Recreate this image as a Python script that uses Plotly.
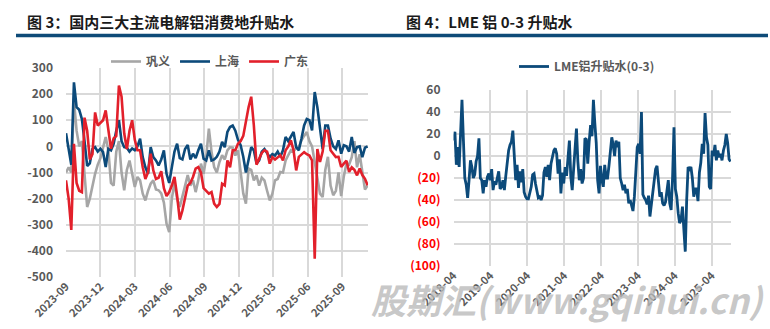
import pandas as pd
import plotly.graph_objects as go

# ---- Figure 3: domestic spot premiums (yuan/t), weekly readings from 2023-09-01 ----
gongyi = [-100, -80, -100, 175, 60, 0, 20, -100, -232, -200, -150, -105, -70, -45, -5, 36, -15, -140,
          -150, -20, 20, -100, -168, -90, -54, -110, -155, -117, -130, -181, -207, -170, -143, -130, -165,
          -168, -180, -215, -296, -328, -200, -140, -200, -232, -190, -140, -110, -150, -130, -175, -130,
          -66, -105, -40, 68, -20, -79, -100, -60, -34, -50, -15, -3, -5, -35, -15, -90, -180, -219, -85,
          -90, -130, -111, -150, -120, -130, -170, -207, -181, -130, -125, -98, -100, -54, -34, -15, -20,
          -5, -3, 23, 40, 55, 20, 0, -60, -120, -181, -194, -90, -40, -150, -187, -170, -100, -190, -115,
          -66, -70, -41, 20, -80, -30, -100, -165, -150]

shanghai = [50, -5, -70, 245, 150, 140, 105, 20, -75, -65, -10, -3, -20, -9, -22, -79, -9, -15, 10, 60,
            100, 20, -3, -5, -20, -8, -15, 0, 29, -41, -80, -105, -3, -41, -54, -73, -50, -15, -105, -140,
            -79, -20, 10, -45, -50, -10, 5, -50, -28, -45, -15, 10, -47, -54, -15, -54, -50, -40, -20, 17,
            -3, 55, 74, 80, 60, 25, 5, -40, -100, -50, -3, -15, -66, -54, -20, -10, -28, -41, -30, -35, -20,
            -40, -15, 36, 20, 40, 55, -3, -15, 30, 80, 105, 100, 61, 208, 150, 60, -10, 80, 80, 30, 0, -10,
            23, -28, 4, 0, -20, 36, -25, -3, 0, -41, -5, 0]

guangdong = [-130, -200, -320, 10, -140, -170, -175, 110, 60, -50, -30, 130, 80, 90, 100, 138, 61, -9, 30,
             40, 233, 190, 50, -10, 60, 100, 25, -15, -15, -80, -125, -100, -28, -92, -125, -120, -95, -160,
             -190, -175, -150, -117, -190, -280, -245, -190, -150, -140, -117, -85, -79, -100, -160, -170,
             -181, -175, -219, -232, -220, -143, -150, -54, -80, -15, -15, 10, 20, 40, 100, 150, 190, 80,
             -70, -45, -25, -15, -20, -66, -41, -50, -40, -34, -54, -15, 0, 23, -15, -92, -40, -30, -22,
             -30, -35, -54, -430, -10, -60, -20, 60, 60, -15, -28, -41, -40, -79, -66, -55, -98, -80, -90,
             -111, -85, -110, -124, -149]

# ---- Figure 4: LME aluminium cash-3M spread (USD/t), fortnightly readings from 2018-04-01 ----
lme_spread = [14, 22, -8, 8, -10, 28, 51, 15, -20, -26, -38, -22, -4, -10, -20, -17, -5, 0, 16, -20,
              -22, -34, -22, -28, -19, -16, -22, -12, -31, -23, -26, -20, -14, -30, -28, -22, -31, -18,
              -3, 5, 10, 13, 23, 5, -22, -8, -29, -14, -24, -12, -33, -37, -39, -39, -34, -28, -17, -16,
              -25, -33, -38, -37, -40, -36, -15, -10, -19, -8, -22, -7, 0, 5, 7, 2, -16, -3, -34, -15,
              -25, -10, -18, 0, 14, -19, -31, -12, 5, 25, -5, -22, -12, -25, -20, 16, 15, -7, 13, 28, 18,
              51, 30, 12, -22, -34, -9, -22, -28, -8, -20, -20, -9, 5, 17, 10, 0, 14, 8, 13, -20, -25,
              -31, -26, -34, -30, -43, -40, -46, -50, -37, -16, 8, 11, 2, 40, -35, -38, -40, -44, -36,
              -55, -45, -31, -22, -12, -9, -25, -37, -33, -43, -45, -42, -32, -22, -43, -49, -20, 26, -30,
              -37, -52, -61, -58, -46, -67, -87, -40, -10, -12, -10, -20, -37, -30, -30, -41, -15, -6, 11,
              2, 39, 17, 10, -28, -30, 5, 0, 10, -4, 5, -1, 2, -4, 5, 10, 20, 12, -3, -5]

left_y_ticks = [300, 200, 100, 0, -100, -200, -300, -400, -500]
right_y_ticks = [60, 40, 20, 0, -20, -40, -60, -80, -100]

dom_dates = pd.date_range("2023-09-01", periods=len(shanghai), freq="7D")
lme_dates = pd.date_range("2018-04-01", periods=len(lme_spread), freq="14D")

BLUE = "#0c4a7a"
RED = "#e2202b"
GRAY = "#a6a6a6"
TICK = "#595959"
GRID = "#d9d9d9"
FONT = "Noto Sans CJK SC"
W, H = 770, 329

fig = go.Figure()
line_w = 2.6
fig.add_trace(go.Scatter(x=dom_dates, y=gongyi, name="巩义", mode="lines",
                         line=dict(color=GRAY, width=line_w), xaxis="x", yaxis="y", legend="legend"))
fig.add_trace(go.Scatter(x=dom_dates, y=shanghai, name="上海", mode="lines",
                         line=dict(color=BLUE, width=line_w), xaxis="x", yaxis="y", legend="legend"))
fig.add_trace(go.Scatter(x=dom_dates, y=guangdong, name="广东", mode="lines",
                         line=dict(color=RED, width=line_w), xaxis="x", yaxis="y", legend="legend"))
fig.add_trace(go.Scatter(x=lme_dates, y=lme_spread, name="LME铝升贴水(0-3)", mode="lines",
                         line=dict(color=BLUE, width=2.8), xaxis="x2", yaxis="y2", legend="legend2"))


def fmt_right(v):
    if v < 0:
        return f"<span style='color:#ff0000'>({abs(v)})</span>"
    return str(v)


tickfont = dict(family=FONT, size=12, color=TICK, weight="bold")
xtickfont = dict(family=FONT, size=11, color=TICK, weight="bold")
common_axis = dict(showgrid=True, gridcolor=GRID, gridwidth=1.5, zeroline=False, showline=False,
                   ticks="", automargin=False)

fig.update_layout(
    width=W, height=H,
    margin=dict(l=0, r=0, t=0, b=0, autoexpand=False),
    paper_bgcolor="white", plot_bgcolor="white",
    showlegend=True,
    xaxis=dict(domain=[66 / W, 368 / W], type="date", range=["2023-09-01", "2025-11-08"],
               tick0="2023-09-01", dtick="M3", tickformat="%Y-%m", tickangle=-45,
               tickfont=xtickfont, anchor="y", **common_axis),
    yaxis=dict(domain=[1 - 277 / H, 1 - 68 / H], range=[-500, 300], tickvals=left_y_ticks,
               ticktext=[str(v) for v in left_y_ticks], ticklabelstandoff=12, tickfont=tickfont,
               anchor="x", **common_axis),
    xaxis2=dict(domain=[453.5 / W, 731 / W], type="date", range=["2018-04-01", "2025-10-10"],
                tick0="2018-04-01", dtick="M12", tickformat="%Y-%m", tickangle=-45,
                tickfont=xtickfont, anchor="y2", **common_axis),
    yaxis2=dict(domain=[1 - 266 / H, 1 - 90 / H], range=[-100, 60], tickvals=right_y_ticks,
                ticktext=[fmt_right(v) for v in right_y_ticks], ticklabelstandoff=12,
                tickfont=tickfont, anchor="x2", **common_axis),
    legend=dict(orientation="h", x=106 / W, y=1 - 47 / H, xanchor="left", yanchor="top",
                font=dict(family=FONT, size=12, color=TICK, weight="bold"),
                bgcolor="rgba(0,0,0,0)", itemwidth=30, tracegroupgap=0),
    legend2=dict(orientation="h", x=514 / W, y=1 - 52 / H, xanchor="left", yanchor="top",
                 font=dict(family=FONT, size=12, color=TICK, weight="bold"),
                 bgcolor="rgba(0,0,0,0)", itemwidth=30),
)

# section headers with the dark-blue rule beneath
fig.add_annotation(text="<b>图 3：国内三大主流电解铝消费地升贴水</b>", xref="paper", yref="paper",
                   x=25 / W, y=1 - 22 / H, xanchor="left", yanchor="middle", showarrow=False,
                   font=dict(family=FONT, size=15, color="#1a1a1a"))
fig.add_annotation(text="<b>图 4：LME 铝 0-3 升贴水</b>", xref="paper", yref="paper",
                   x=404 / W, y=1 - 22 / H, xanchor="left", yanchor="middle", showarrow=False,
                   font=dict(family=FONT, size=15, color="#1a1a1a"))
fig.add_shape(type="line", xref="paper", yref="paper", x0=16 / W, x1=768 / W,
              y0=1 - 35.5 / H, y1=1 - 35.5 / H, line=dict(color="#0e4b78", width=3.5))

# site watermark
fig.add_annotation(text="<b><i>股期汇(www.gqihui.cn)</i></b>", xref="paper", yref="paper",
                   x=766 / W, y=1 - 298 / H, xanchor="right", yanchor="middle", showarrow=False,
                   font=dict(family=FONT, size=35, color="rgba(185,185,185,0.8)"))

fig.write_html("out.html")
